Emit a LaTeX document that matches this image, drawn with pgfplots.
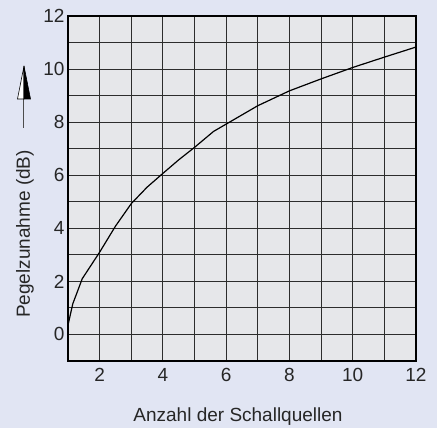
\documentclass[border=0pt]{standalone}
\usepackage{fontspec}
\setmainfont{Liberation Sans}
\usepackage{pgfplots}
\pgfplotsset{compat=1.18}
\definecolor{bg}{RGB}{225,229,243}
\definecolor{plotbg}{RGB}{230,231,234}
\definecolor{gridc}{RGB}{45,45,45}
\begin{document}
\begin{tikzpicture}[x=1pt,y=1pt]
\fill[bg] (-68,-67) rectangle (369,361);
\useasboundingbox (-68,-67) rectangle (369,361);
\begin{axis}[
  at={(0,0)}, anchor=south west,
  width=348pt, height=345pt, scale only axis,
  xmin=1, xmax=12, ymin=-1, ymax=12,
  xtick={2,4,...,12}, ytick={0,2,...,12},
  minor xtick={3,5,...,11}, minor ytick={-1,1,...,11},
  grid=both,
  major grid style={gridc, line width=1pt},
  minor grid style={gridc, line width=1pt},
  axis background/.style={fill=plotbg},
  major tick length=0pt, minor tick length=0pt,
  tick style={draw=none},
  ticklabel style={font=\fontsize{19}{21}\selectfont, text=black!85},
  /pgf/number format/assume math mode=true,
  xticklabel style={yshift=-4pt},
  yticklabel style={xshift=0pt},
  axis line style={black, line width=1.1pt},
  clip=true,
]
\addplot[black, line width=1.2pt] coordinates {
(1,0.35) (1.15,1.15) (1.45,2.1) (2,3.1) (2.5,4.08) (3,4.93) (3.5,5.55) (4,6.07)
(4.5,6.58) (5,7.05) (5.6,7.65) (7,8.62) (8,9.18) (9,9.63) (10,10.06)
(11,10.45) (12,10.83)
};
\end{axis}
\node[font=\fontsize{19}{21}\selectfont, text=black!85] at (170,-56) {Anzahl der Schallquellen};
\node[font=\fontsize{19}{21}\selectfont, text=black!85, rotate=90] at (-43,127) {Pegelzunahme (dB)};
\draw[black!70, line width=1pt] (-44,233) -- (-44,263);
\filldraw[fill=white, draw=black, line width=0.6pt] (-50.5,262) -- (-44,262) -- (-44,295) -- cycle;
\filldraw[fill=black, draw=black, line width=0.6pt] (-44,262) -- (-37.5,262) -- (-44,295) -- cycle;
\end{tikzpicture}
\end{document}
